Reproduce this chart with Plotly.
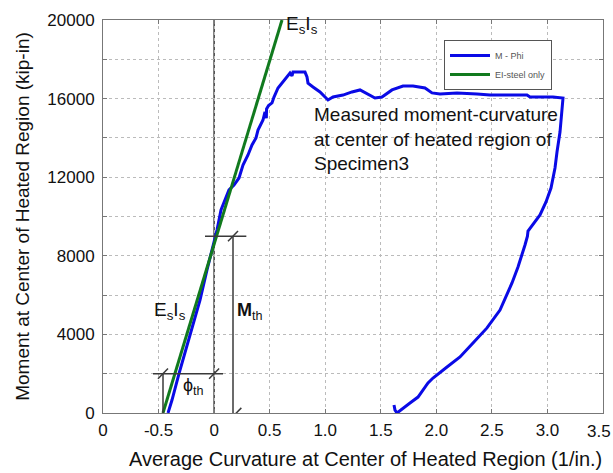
import plotly.graph_objects as go

# Measured moment-curvature (M - Phi)
phi_meas = [-0.415, -0.379, -0.316, -0.217, -0.127, -0.064, -0.010, 0.026, 0.062, 0.098,
            0.134, 0.179, 0.224, 0.260, 0.305, 0.341, 0.377, 0.395, 0.440, 0.458,
            0.470, 0.472, 0.490, 0.521, 0.539, 0.575, 0.611, 0.656, 0.683, 0.701,
            0.710, 0.746, 0.818, 0.836, 0.845, 0.890, 0.953, 1.025, 1.070, 1.160,
            1.241, 1.313, 1.358, 1.448, 1.511, 1.601, 1.700, 1.790, 1.898, 1.961,
            2.033, 2.186, 2.366, 2.483, 2.636, 2.816, 2.843, 3.050, 3.140, 3.131,
            3.113, 3.086, 3.068, 3.032, 2.987, 2.933, 2.870, 2.825, 2.820, 2.798,
            2.735, 2.681, 2.573, 2.456, 2.330, 2.213, 2.096, 1.970, 1.925, 1.835,
            1.763, 1.673, 1.646, 1.628, 1.619]
M_meas = [0, 660, 2000, 3970, 5750, 7280, 8550, 9310, 10330, 10840,
          11350, 11600, 11960, 12620, 13130, 13640, 14000, 14400, 14910, 15320,
          15000, 15470, 15650, 15780, 16080, 16540, 16790, 17100, 17300, 17150,
          17350, 17350, 17350, 17100, 16790, 16590, 16340, 15930, 16080, 16180,
          16340, 16440, 16290, 16030, 16080, 16440, 16640, 16640, 16540, 16290,
          16230, 16290, 16230, 16180, 16180, 16180, 16080, 16080, 16030, 15320,
          14300, 13280, 12470, 11450, 10740, 10080, 9620, 9260, 9000, 8550,
          7430, 6620, 5240, 4330, 3560, 2850, 2340, 1780, 1530, 810,
          510, 150, 0, 150, 410]

# Elastic steel-only line (EI-steel only)
phi_el = [-0.46, 0.611]
M_el = [0, 20000]

# Construction lines
phi_th_start = -0.46
M_phi_line = 2000
M_th = 9000
phi_mth = 0.17

x_tickvals = [-1.0, -0.5, 0.0, 0.5, 1.0, 1.5, 2.0, 2.5, 3.0, 3.5]
x_ticktext = ["0", "-0.5", "0", "0.5", "1.0", "1.5", "2.0", "2.5", "3.0", "3.5"]
y_tickvals = [0, 2000, 4000, 6000, 8000, 10000, 12000, 14000, 16000, 18000, 20000]
y_ticktext = ["0", "", "4000", "", "8000", "", "12000", "", "16000", "", "20000"]

FONT = "Arial, Liberation Sans, sans-serif"
LINE = "#3a3a3a"

fig = go.Figure()
fig.add_trace(go.Scatter(x=phi_meas, y=M_meas, mode="lines", name="M - Phi",
                         line=dict(color="#0a0ae6", width=3)))
fig.add_trace(go.Scatter(x=phi_el, y=M_el, mode="lines", name="EI-steel only",
                         line=dict(color="#117a1e", width=3)))

shapes = []
# vertical line at zero curvature
shapes.append(dict(type="line", xref="x", yref="y", x0=0, x1=0, y0=0, y1=20000,
                   line=dict(color=LINE, width=1.5), layer="below"))
# phi_th construction
shapes.append(dict(type="line", xref="x", yref="y", x0=-0.55, x1=0.08, y0=M_phi_line, y1=M_phi_line,
                   line=dict(color=LINE, width=1.5)))
shapes.append(dict(type="line", xref="x", yref="y", x0=phi_th_start, x1=phi_th_start, y0=0, y1=M_phi_line,
                   line=dict(color=LINE, width=1.5)))
# M_th construction
shapes.append(dict(type="line", xref="x", yref="y", x0=-0.082, x1=0.29, y0=M_th, y1=M_th,
                   line=dict(color=LINE, width=1.5)))
shapes.append(dict(type="line", xref="x", yref="y", x0=phi_mth, x1=phi_mth, y0=0, y1=M_th,
                   line=dict(color=LINE, width=1.5)))
# slash markers
dx, dy = 0.045, 260
for (sx, sy) in [(phi_th_start, M_phi_line), (0, M_phi_line), (phi_mth, M_th), (phi_mth + 0.03, 0)]:
    shapes.append(dict(type="line", xref="x", yref="y", x0=sx - dx, x1=sx + dx, y0=sy - dy, y1=sy + dy,
                       line=dict(color=LINE, width=1.5)))

annotations = [
    dict(x=0.63, y=19750, text="E<sub>s</sub>I<sub>s</sub>", xanchor="left", yanchor="middle", size=19),
    dict(x=-0.56, y=5200, text="E<sub>s</sub>I<sub>s</sub>", xanchor="left", yanchor="middle", size=19),
    dict(x=0.19, y=5150, text="<b>M</b><sub>th</sub>", xanchor="left", yanchor="middle", size=18),
    dict(x=-0.30, y=1350, text="ϕ<sub>th</sub>", xanchor="left", yanchor="middle", size=18),
    dict(x=0.885, y=13950, text="Measured moment-curvature<br>at center of heated region of<br>Specimen3",
         xanchor="left", yanchor="middle", align="left", size=19),
]
for a in annotations:
    sz = a.pop("size")
    a.update(xref="x", yref="y", showarrow=False, font=dict(family=FONT, size=sz, color="#111111"))

# last x tick label (would otherwise be dropped at the edge)
annotations.append(dict(xref="paper", yref="paper", x=1.02, y=-0.047, xanchor="right",
                        yanchor="middle", showarrow=False, text=x_ticktext[-1],
                        font=dict(family=FONT, size=17, color="#111111")))
# x-axis title as paper annotation to match placement
annotations.append(dict(xref="paper", yref="paper", x=0.524, y=-0.117, xanchor="center", yanchor="middle",
                        showarrow=False, text="Average Curvature at Center of Heated Region (1/in.)",
                        font=dict(family=FONT, size=20, color="#111111")))

fig.update_layout(
    width=613, height=473,
    margin=dict(l=103, r=10, t=20, b=60),
    paper_bgcolor="white", plot_bgcolor="white",
    font=dict(family=FONT, size=17, color="#111111"),
    showlegend=True,
    legend=dict(x=0.682, y=0.949, xanchor="left", yanchor="top",
                bordercolor="#555555", borderwidth=1, bgcolor="white",
                font=dict(family=FONT, size=9, color="#555555"),
                tracegroupgap=0, itemwidth=40),
    shapes=shapes, annotations=annotations,
)
fig.update_xaxes(range=[-1.0, 3.5], tickvals=x_tickvals[:-1], ticktext=x_ticktext[:-1],
                 showgrid=True, gridcolor="#bbbbbb", griddash="dot", gridwidth=1,
                 showline=True, linecolor="#777777", mirror="allticks",
                 ticks="inside", ticklen=4, tickcolor="#777777", zeroline=False,
                 ticklabelstandoff=2,
                 tickfont=dict(size=17, color="#111111"))
fig.update_yaxes(range=[0, 20000], tickvals=y_tickvals, ticktext=y_ticktext,
                 showgrid=True, gridcolor="#bbbbbb", griddash="dot", gridwidth=1,
                 showline=True, linecolor="#777777", mirror="allticks",
                 ticks="inside", ticklen=4, tickcolor="#777777", zeroline=False,
                 ticklabelstandoff=4,
                 tickfont=dict(size=17, color="#111111"),
                 title=dict(text="Moment at Center of Heated Region (kip-in)",
                            font=dict(size=19, color="#111111"), standoff=12))

fig.write_html("out.html")
